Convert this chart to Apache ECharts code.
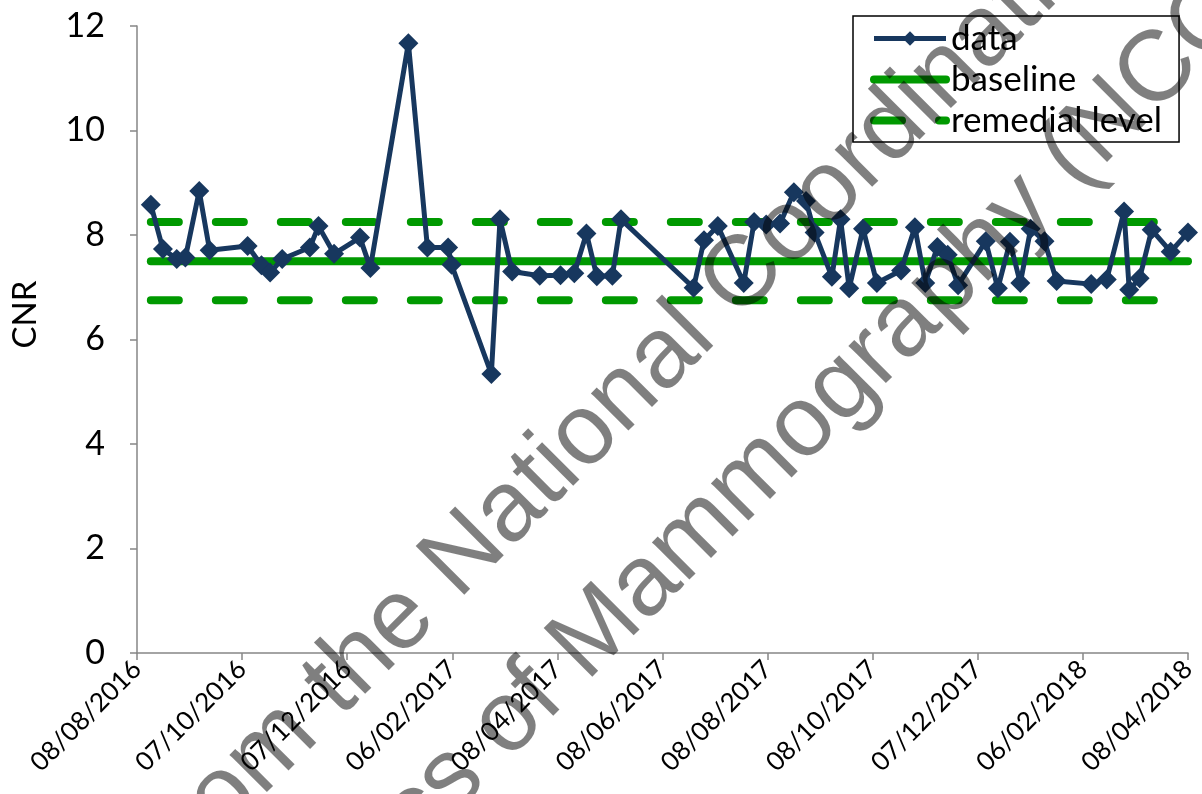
<!DOCTYPE html>
<html>
<head>
<meta charset="utf-8">
<script src="https://cdn.jsdelivr.net/npm/echarts@6/dist/echarts.min.js"></script>
<style>
html,body{margin:0;padding:0;background:#fff;}
#chart{width:1202px;height:794px;}
</style>
</head>
<body>
<div id="chart"></div>
<script>
// ---- data ----
const startDate = '2016-08-08';
const endDate = '2018-04-08';
const tickLabels = ['08/08/2016','07/10/2016','07/12/2016','06/02/2017','08/04/2017','08/06/2017','08/08/2017','08/10/2017','07/12/2017','06/02/2018','08/04/2018'];
const dates = [
 '2016-08-16','2016-08-23','2016-08-31','2016-09-05','2016-09-13','2016-09-19','2016-10-11','2016-10-19','2016-10-24','2016-10-31',
 '2016-11-16','2016-11-21','2016-11-30','2016-12-15','2016-12-21','2017-01-12','2017-01-23','2017-02-04','2017-02-06','2017-03-01',
 '2017-03-06','2017-03-13','2017-03-29','2017-04-10','2017-04-18','2017-04-25','2017-05-01','2017-05-10','2017-05-15','2017-06-26',
 '2017-07-02','2017-07-10','2017-07-25','2017-07-31','2017-08-07','2017-08-15','2017-08-23','2017-08-30','2017-09-04','2017-09-14',
 '2017-09-19','2017-09-24','2017-10-02','2017-10-10','2017-10-24','2017-11-01','2017-11-07','2017-11-14','2017-11-20','2017-11-26',
 '2017-12-12','2017-12-19','2017-12-26','2018-01-01','2018-01-07','2018-01-15','2018-01-22','2018-02-11','2018-02-20','2018-03-02',
 '2018-03-05','2018-03-11','2018-03-18','2018-03-29','2018-04-08'
];
const cnr = [
 8.58,7.73,7.54,7.57,8.84,7.71,7.79,7.42,7.28,7.54,
 7.76,8.17,7.64,7.95,7.37,11.67,7.76,7.76,7.43,5.34,
 8.30,7.30,7.22,7.23,7.27,8.03,7.21,7.22,8.30,6.99,
 7.90,8.17,7.08,8.25,8.20,8.22,8.82,8.65,8.05,7.20,
 8.30,6.98,8.12,7.08,7.32,8.15,7.08,7.77,7.62,7.04,
 7.88,6.98,7.87,7.08,8.12,7.88,7.12,7.06,7.15,8.45,
 6.95,7.17,8.10,7.68,8.05
];
const baselineValue = 7.5;
const remedialUpper = 8.25;
const remedialLower = 6.75;
const watermarkLine1 = 'from the National Coordinating Centre for the';
const watermarkLine2 = 'Physics of Mammography (NCCPM)';

// ---- helpers ----
const DAY = 86400000;
function toDay(s){ const p = s.split('-').map(Number); return (Date.UTC(p[0],p[1]-1,p[2]) - Date.UTC(2016,7,8)) / DAY; }
const spanDays = toDay(endDate);
const tickStep = spanDays / (tickLabels.length - 1);
const dataPts = dates.map((d,i)=>[toDay(d), cnr[i]]);
const x0 = toDay(dates[0]), x1 = toDay(dates[dates.length-1]);

const navy = '#17375E';
const green = '#009900';
const font = 'Lato';
const dashPattern = [28,37];

const chart = echarts.init(document.getElementById('chart'), null, {renderer:'canvas'});
chart.setOption({
  animation:false,
  backgroundColor:'#ffffff',
  grid:{left:137, right:14, top:26, bottom:141, containLabel:false},
  xAxis:{
    type:'value', min:0, max:spanDays, interval:tickStep,
    axisLine:{lineStyle:{color:'#868686', width:1.5}},
    axisTick:{show:true, inside:false, length:7, lineStyle:{color:'#868686', width:1.5}},
    splitLine:{show:false},
    axisLabel:{rotate:45, margin:12, color:'#000', fontFamily:font, fontSize:26,
      formatter:function(v){ return tickLabels[Math.round(v/tickStep)] || ''; }}
  },
  yAxis:{
    type:'value', min:0, max:12, interval:2,
    name:'CNR', nameLocation:'middle', nameGap:95, nameRotate:90,
    nameTextStyle:{color:'#000', fontFamily:font, fontSize:33, padding:[0,0,0,50]},
    axisLine:{show:true, lineStyle:{color:'#868686', width:1.5}},
    axisTick:{show:true, inside:false, length:7, lineStyle:{color:'#868686', width:1.5}},
    splitLine:{show:false},
    axisLabel:{margin:32, color:'#000', fontFamily:font, fontSize:34}
  },
  legend:{
    orient:'vertical', left:853, top:16,
    borderColor:'#000', borderWidth:1.5, borderRadius:0,
    padding:[5,17,4,17], itemGap:6, itemWidth:72, itemHeight:18,
    textStyle:{color:'#000', fontFamily:font, fontSize:35, lineHeight:35},
    data:[
      {name:'data', lineStyle:{width:5}},
      {name:'baseline', itemStyle:{color:'rgba(0,0,0,0)', borderWidth:0, opacity:0}, lineStyle:{width:8, cap:'round'}},
      {name:'remedial level', itemStyle:{color:'rgba(0,0,0,0)', borderWidth:0, opacity:0}, lineStyle:{width:8, type:dashPattern, cap:'round'}}
    ]
  },
  series:[
    {name:'baseline', type:'line', data:[[x0,baselineValue],[x1,baselineValue]], symbol:'none',
     lineStyle:{color:green, width:8, cap:'round'}, itemStyle:{color:green}, z:2},
    {name:'remedial level', type:'line', data:[[x0,remedialUpper],[x1,remedialUpper]], symbol:'none',
     lineStyle:{color:green, width:8, type:dashPattern, cap:'round'}, itemStyle:{color:green}, z:2},
    {name:'remedial level', type:'line', data:[[x0,remedialLower],[x1,remedialLower]], symbol:'none',
     lineStyle:{color:green, width:8, type:dashPattern, cap:'round'}, itemStyle:{color:green}, z:2},
    {name:'data', type:'line', data:dataPts, symbol:'diamond', symbolSize:20,
     lineStyle:{color:navy, width:5}, itemStyle:{color:navy}, z:3}
  ],
  graphic:[
    {type:'text', x:160, y:860, rotation:Math.PI/4, z:100, silent:true,
     style:{text:watermarkLine1, fill:'rgba(0,0,0,0.5)', font:'100px "Liberation Sans"', verticalAlign:'middle', align:'left'}},
    {type:'text', x:225, y:1005, rotation:Math.PI/4, z:100, silent:true,
     style:{text:watermarkLine2, fill:'rgba(0,0,0,0.5)', font:'100px "Liberation Sans"', verticalAlign:'middle', align:'left'}}
  ]
});
</script>
</body>
</html>
